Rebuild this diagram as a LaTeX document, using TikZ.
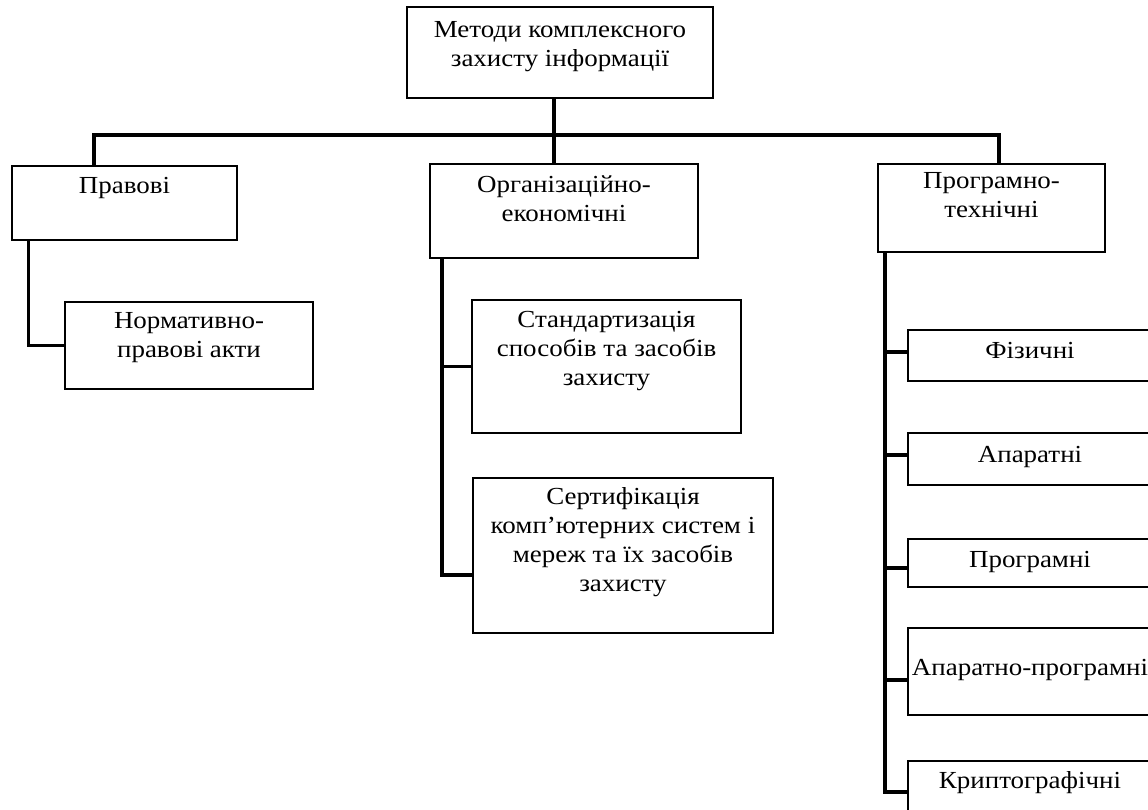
\documentclass[tikz,border=0pt]{standalone}
\usepackage{fontspec}
\setmainfont{Liberation Serif}[FakeStretch=1.1]
\newcommand{\bt}[4]{\parbox[c][#2][t]{#1}{\centering\vspace*{\dimexpr#3-0.7\baselineskip\relax}\strut #4\par}}
\tikzset{
  bx/.style={draw=black, line width=1.7pt, inner sep=0pt, outer sep=0pt, anchor=north west,
             font=\fontsize{24.5}{29}\selectfont},
  conn/.style={draw=black, line width=3.2pt}
}
\begin{document}
\begin{tikzpicture}[x=1pt,y=-1pt]
\useasboundingbox (0,0) rectangle (1148,809);
\clip (0,0) rectangle (1148,809);
\fill[white] (0,0) rectangle (1148,809);
% nodes
\node[bx] (top) at (407,7) {\bt{306pt}{91pt}{30pt}{Методи комплексного\\захисту інформації}};
\node[bx] (prav) at (12,166) {\bt{225pt}{74pt}{27pt}{Правові}};
\node[bx] (norm) at (65,302) {\bt{248pt}{87pt}{26pt}{Нормативно-\\правові акти}};
\node[bx] (org) at (430,164) {\bt{268pt}{94pt}{28pt}{Організаційно-\\економічні}};
\node[bx] (stand) at (472,300) {\bt{269pt}{133pt}{27pt}{Стандартизація\\способів та засобів\\захисту}};
\node[bx] (cert) at (473,478) {\bt{300pt}{155pt}{26pt}{Сертифікація\\комп’ютерних систем і\\мереж та їх засобів\\захисту}};
\node[bx] (prog) at (878,164) {\bt{227pt}{88pt}{24pt}{Програмно-\\технічні}};
\node[bx] (fiz) at (908,330) {\bt{244pt}{51pt}{28pt}{Фізичні}};
\node[bx] (apar) at (908,433) {\bt{244pt}{52pt}{29pt}{Апаратні}};
\node[bx] (progr) at (908,539) {\bt{244pt}{48pt}{28pt}{Програмні}};
\node[bx] (appr) at (908,628) {\bt{244pt}{87pt}{47pt}{Апаратно-програмні}};
\node[bx] (kript) at (908,761) {\bt{244pt}{55pt}{27pt}{Криптографічні}};
% connectors
\coordinate (bus) at (553,135);
\draw[conn] ([xshift=-6pt]top.south) -- ([xshift=-10pt]org.north);
\draw[conn] ([xshift=-30.5pt]prav.north) |- (bus) -| ([xshift=7.5pt]prog.north);
\draw[conn] ([xshift=-96pt]prav.south) |- (norm.west);
\draw[conn] ([xshift=-122pt]org.south) |- (stand.west);
\draw[conn] ([xshift=-122pt]org.south) |- ([yshift=-19.5pt]cert.west);
\draw[conn] ([xshift=-106.5pt]prog.south) |- ([yshift=3.5pt]fiz.west);
\draw[conn] ([xshift=-106.5pt]prog.south) |- ([yshift=4pt]apar.west);
\draw[conn] ([xshift=-106.5pt]prog.south) |- ([yshift=-5pt]progr.west);
\draw[conn] ([xshift=-106.5pt]prog.south) |- ([yshift=-8.5pt]appr.west);
\draw[conn] ([xshift=-106.5pt]prog.south) |- ([yshift=-3.5pt]kript.west);
\end{tikzpicture}
\end{document}
